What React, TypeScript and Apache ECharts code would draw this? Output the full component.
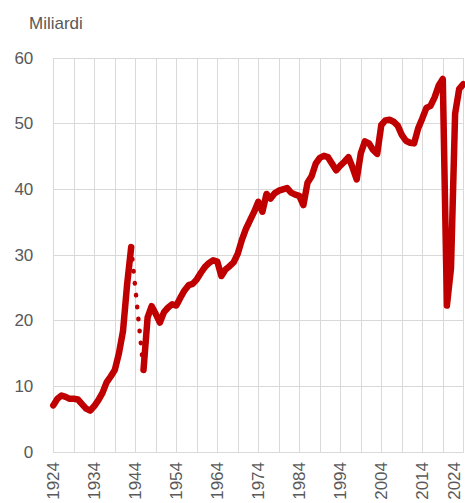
import React, { useEffect, useRef } from "react";
import * as echarts from "echarts";

const years: string[] = [];
for (let y = 1924; y <= 2024; y++) years.push(String(y));

// Values in billions (Miliardi), one per year 1924..2024; null = gap
const values: (number | null)[] = [
  7.1, 8.1, 8.6, 8.4, 8.1, 8.1, 8.0, 7.3, 6.6, 6.3, // 1924-1933
  7.0, 7.9, 9.0, 10.6, 11.5, 12.5, 15.0, 18.4, 25.5, 31.2, // 1934-1943
  null, null, 12.5, 20.5, 22.2, 21.0, 19.7, 21.3, 22.0, 22.5, // 1944-1953
  22.3, 23.5, 24.6, 25.4, 25.6, 26.3, 27.3, 28.2, 28.8, 29.2, // 1954-1963
  29.0, 26.8, 27.8, 28.3, 28.9, 30.2, 32.3, 34.0, 35.3, 36.6, // 1964-1973
  38.1, 36.6, 39.3, 38.6, 39.4, 39.8, 40.0, 40.2, 39.5, 39.2, // 1974-1983
  39.0, 37.6, 41.0, 42.0, 43.9, 44.8, 45.1, 44.9, 43.9, 42.9, // 1984-1993
  43.6, 44.2, 44.9, 43.3, 41.5, 45.5, 47.3, 47.0, 46.0, 45.4, // 1994-2003
  49.8, 50.5, 50.6, 50.3, 49.7, 48.3, 47.4, 47.1, 47.0, 49.3, // 2004-2013
  50.8, 52.4, 52.7, 54.0, 55.8, 56.8, 22.3, 28.0, 51.5, 55.3, // 2014-2023
  56.0, // 2024
];

// War-time gap bridge (dotted): 1943 -> 1946
const gapYears = ["1943", "1946"];
const gapValues = [31.2, 12.5];

const yTicks = { min: 0, max: 60, interval: 10 };

const FONT = "'Liberation Sans Narrow', 'Arial Narrow', 'Liberation Sans', Arial, sans-serif";
const FS = 17;
const TXT = "#595959";
const GRID = "#d9d9d9";
const RED = "#c00000";

export default function App() {
  const ref = useRef<HTMLDivElement>(null);
  useEffect(() => {
    if (!ref.current) return;
    const chart = echarts.init(ref.current, undefined, { renderer: "svg" });
    const dotted = years.map((y) => {
      const k = gapYears.indexOf(y);
      return k >= 0 ? gapValues[k] : null;
    });
    const lastIdx = years.length - 1;
    chart.setOption({
      animation: false,
      backgroundColor: "#ffffff",
      grid: {
        left: 53.3,
        right: 1.7,
        top: 58,
        bottom: 51,
        containLabel: false,
        outerBoundsMode: "none",
      },
      xAxis: {
        type: "category",
        data: years,
        boundaryGap: false,
        axisLine: { show: true, lineStyle: { color: GRID, width: 1 } },
        axisTick: { show: false },
        axisLabel: {
          interval: (i: number) => i % 10 === 0 && i < lastIdx,
          rotate: 90,
          margin: 10,
          color: TXT,
          fontSize: FS,
          fontFamily: FONT,
        },
        splitLine: {
          show: true,
          interval: (i: number) => i % 5 === 0,
          lineStyle: { color: GRID, width: 1 },
        },
      },
      yAxis: {
        type: "value",
        min: yTicks.min,
        max: yTicks.max,
        interval: yTicks.interval,
        axisLine: { show: false },
        axisTick: { show: false },
        axisLabel: { margin: 20, color: TXT, fontSize: FS, fontFamily: FONT },
        splitLine: { show: true, lineStyle: { color: GRID, width: 1 } },
      },
      graphic: [
        {
          type: "text",
          left: 29,
          top: 15,
          style: { text: "Miliardi", fill: TXT, fontSize: FS, fontFamily: FONT },
        },
        {
          type: "text",
          x: 454,
          y: 462,
          rotation: Math.PI / 2,
          style: {
            text: years[lastIdx],
            fill: TXT,
            fontSize: FS,
            fontFamily: FONT,
            align: "right",
            verticalAlign: "middle",
          },
        },
      ],
      series: [
        {
          type: "line",
          data: values,
          showSymbol: false,
          symbol: "none",
          connectNulls: false,
          lineStyle: { color: RED, width: 6.5, cap: "round", join: "round" },
          z: 3,
        },
        {
          type: "line",
          data: dotted,
          showSymbol: false,
          symbol: "none",
          connectNulls: true,
          lineStyle: { color: RED, width: 4.5, type: [0.5, 11.5], cap: "round" },
          z: 2,
        },
      ],
    });
    return () => chart.dispose();
  }, []);
  return (
    <div
      ref={ref}
      style={{ position: "fixed", left: 0, top: 0, width: 465, height: 503, background: "#fff" }}
    />
  );
}
